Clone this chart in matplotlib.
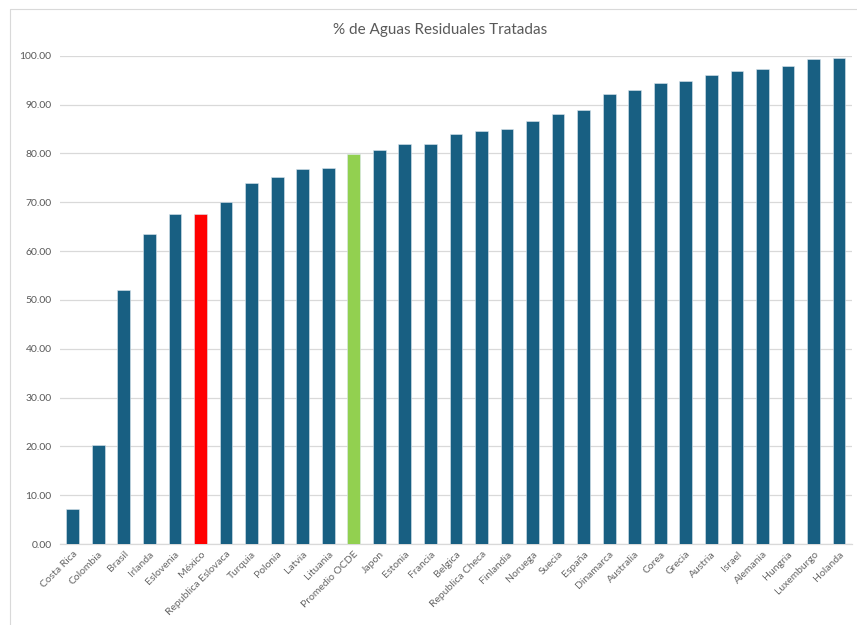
import numpy as np
import matplotlib.pyplot as plt
from matplotlib.lines import Line2D

paises = ['Costa Rica', 'Colombia', 'Brasil', 'Irlanda', 'Eslovenia', 'México',
          'Republica Eslovaca', 'Turquia', 'Polonia', 'Latvia', 'Lituania',
          'Promedio OCDE', 'Japon', 'Estonia', 'Francia', 'Belgica',
          'Republica Checa', 'Finlandia', 'Noruega', 'Suecia', 'España',
          'Dinamarca', 'Australia', 'Corea', 'Grecia', 'Austria', 'Israel',
          'Alemania', 'Hungria', 'Luxemburgo', 'Holanda']
valores = [7.1, 20.2, 52.0, 63.6, 67.6, 67.6, 70.1, 73.9, 75.2, 76.9, 77.1,
           79.8, 80.7, 82.0, 82.0, 84.0, 84.7, 85.0, 86.7, 88.1, 88.9,
           92.2, 93.0, 94.4, 94.8, 96.0, 97.0, 97.4, 97.9, 99.4, 99.6]

azul = '#185f82'
colores = [azul] * len(paises)
colores[paises.index('México')] = '#ff0000'
colores[paises.index('Promedio OCDE')] = '#92d050'

plt.rcParams['font.family'] = ['Lato', 'DejaVu Sans']

fig = plt.figure(figsize=(8.57, 6.25), dpi=100)
ax = fig.add_axes([0.07, 0.1296, 0.924, 0.781])

x = np.arange(len(paises))
ax.bar(x, valores, width=0.5, color=colores, edgecolor='#dbe6ee', linewidth=0.4, zorder=3)

ax.set_xlim(-0.5, len(paises) - 0.5)
ax.set_ylim(0, 100)
ax.set_yticks(np.arange(0, 101, 10))
ax.set_yticklabels(['%.2f' % v for v in np.arange(0, 101, 10)])
ax.set_xticks(x)
ax.set_xticklabels(paises, rotation=45, ha='right', rotation_mode='anchor')
ax.tick_params(axis='both', length=0, labelsize=7.5, colors='#595959')
ax.tick_params(axis='x', pad=4, labelcolor='#666666')
ax.tick_params(axis='y', pad=6)

ax.grid(axis='y', color='#d9d9d9', linewidth=0.9, zorder=0)
for s in ['top', 'right', 'left']:
    ax.spines[s].set_visible(False)
ax.spines['bottom'].set_color('#d9d9d9')
ax.spines['bottom'].set_linewidth(0.9)

fig.text(0.513, 0.952, '% de Aguas Residuales Tratadas', ha='center', va='center',
         fontsize=11, color='#595959')

# borde del area del grafico (solo izquierda y arriba visibles)
fig.lines.append(Line2D([0.012, 0.012, 1.0], [0.0, 0.985, 0.985], transform=fig.transFigure,
                        color='#d9d9d9', linewidth=0.8))

fig.savefig('out.png', dpi=100)
